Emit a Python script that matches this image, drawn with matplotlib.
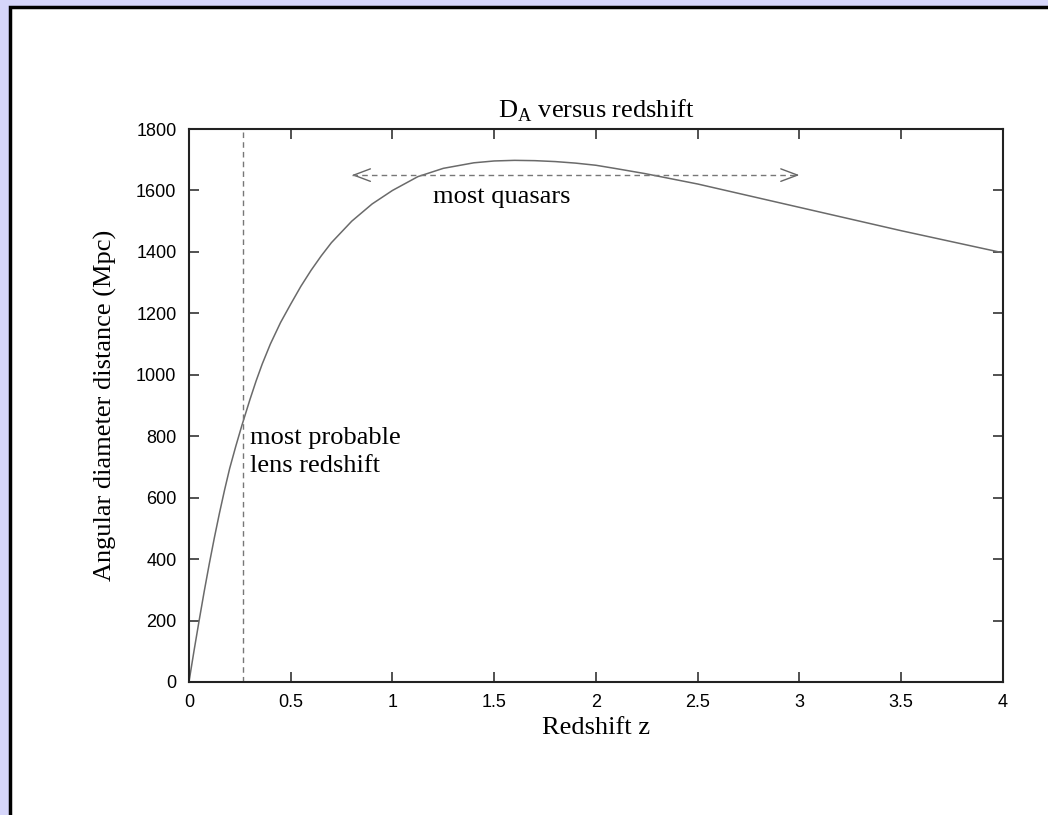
import matplotlib
matplotlib.use("Agg")
import matplotlib.pyplot as plt
from matplotlib.patches import Rectangle, FancyArrowPatch

# angular diameter distance
redshift = [0, 0.025, 0.05, 0.075, 0.1, 0.125, 0.15, 0.175, 0.2, 0.23, 0.26,
            0.3, 0.33, 0.36, 0.4, 0.45, 0.5, 0.55, 0.6, 0.65, 0.7, 0.8, 0.9,
            1.0, 1.125, 1.25, 1.4, 1.5, 1.6, 1.7, 1.8, 1.9, 2.0, 2.1, 2.24,
            2.5, 2.75, 3.0, 3.25, 3.5, 3.75, 4.0]
d_a_mpc = [0, 102, 200, 295, 385, 470, 550, 625, 695, 767, 835,
           920, 980, 1035, 1100, 1170, 1230, 1288, 1340, 1387, 1430, 1500, 1556,
           1600, 1645, 1672, 1690, 1696, 1698, 1697, 1694, 1689, 1682, 1671,
           1655, 1621, 1583, 1545, 1507, 1469, 1433, 1397]

lens_z = 0.265
quasar_range = [0.8, 3.0]
quasar_level = 1650

x_ticks = [0, 0.5, 1, 1.5, 2, 2.5, 3, 3.5, 4]
x_ticklabels = ["0", "0.5", "1", "1.5", "2", "2.5", "3", "3.5", "4"]
y_ticks = [0, 200, 400, 600, 800, 1000, 1200, 1400, 1600, 1800]

serif = "Liberation Serif"
sans = "Liberation Sans"
plt.rcParams["mathtext.fontset"] = "custom"
plt.rcParams["mathtext.rm"] = serif

fig = plt.figure(figsize=(10.48, 8.15), dpi=100)
fig.patch.set_facecolor("#d6d6fa")

# white page with black border (runs off the right/bottom edges)
page = Rectangle((0.0091, -0.05), 1.1, 1.042, transform=fig.transFigure,
                 facecolor="white", edgecolor="black", linewidth=2.5, zorder=0)
fig.add_artist(page)

ax = fig.add_axes([0.1803, 0.1632, 0.7767, 0.6785])
ax.set_zorder(2)

ax.plot(redshift, d_a_mpc, color="#6a6a6a", lw=1.1)
ax.plot([lens_z, lens_z], [0, 1800], color="#777777", lw=1.0,
        linestyle=(0, (4, 3)))
ax.plot(quasar_range, [quasar_level, quasar_level], color="#777777", lw=1.0,
        linestyle=(0, (4, 3)))

# open arrow heads at both ends of the quasar range
for tip, tail in [(quasar_range[0], quasar_range[0] + 0.02),
                  (quasar_range[1], quasar_range[1] - 0.02)]:
    ax.add_patch(FancyArrowPatch((tail, quasar_level), (tip, quasar_level),
                                 arrowstyle="->,head_length=12,head_width=4.5",
                                 mutation_scale=1, color="#666666", lw=1.0,
                                 shrinkA=0, shrinkB=0))

ax.text(1.2, 1579, "most quasars", family=serif, fontsize=19,
        ha="left", va="center")
ax.text(0.3, 794, "most probable", family=serif, fontsize=19,
        ha="left", va="center")
ax.text(0.3, 703, "lens redshift", family=serif, fontsize=19,
        ha="left", va="center")

ax.set_xlim(0, 4)
ax.set_ylim(0, 1800)
ax.set_xticks(x_ticks)
ax.set_xticklabels(x_ticklabels)
ax.set_yticks(y_ticks)
ax.tick_params(direction="in", length=7, width=1.2, color="#333333",
               top=True, right=True, labelsize=13, pad=9)
for lab in ax.get_xticklabels() + ax.get_yticklabels():
    lab.set_family(sans)
for sp in ax.spines.values():
    sp.set_linewidth(1.5)
    sp.set_color("#222222")

ax.set_title(r"D$_{\mathrm{A}}$ versus redshift", family=serif, fontsize=19,
             pad=8)
ax.set_xlabel("Redshift z", family=serif, fontsize=19, labelpad=4)
ax.set_ylabel("Angular diameter distance (Mpc)", family=serif, fontsize=19,
              labelpad=14)

fig.savefig("out.png", dpi=100, facecolor=fig.get_facecolor())
